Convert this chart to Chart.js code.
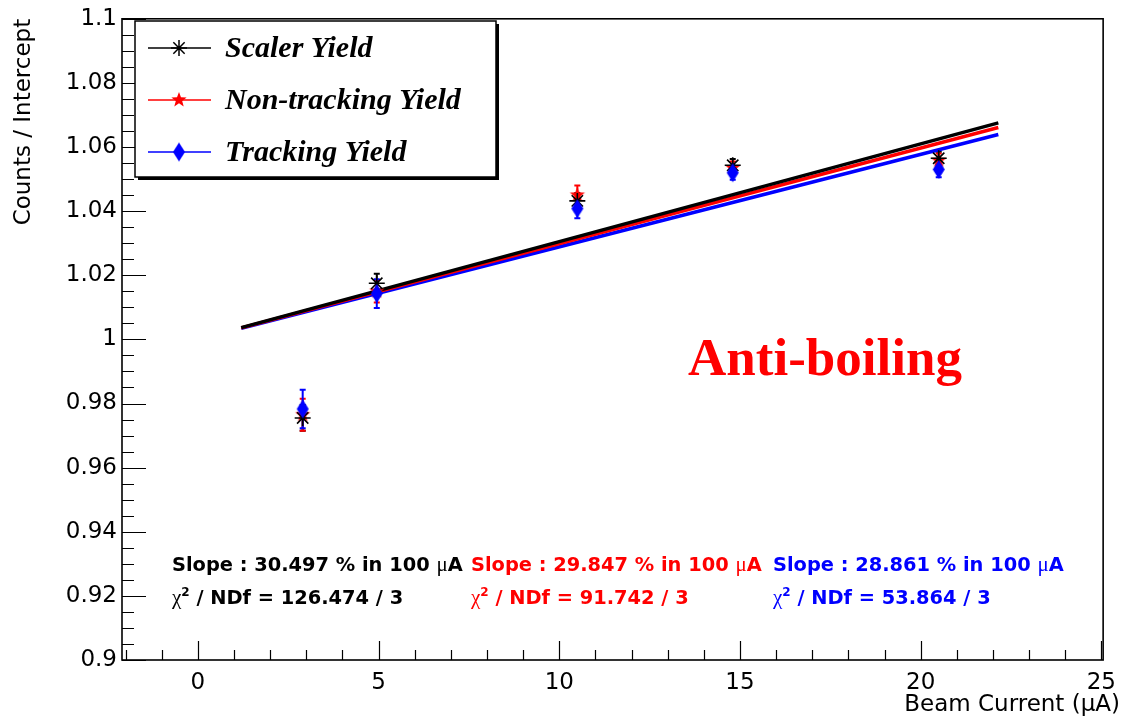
<!DOCTYPE html>
<html><head><meta charset="utf-8">
<script src="https://cdn.jsdelivr.net/npm/chart.js@4/dist/chart.umd.min.js"></script>
<style>html,body{margin:0;padding:0;background:#fff;overflow:hidden}canvas{display:block}</style>
</head><body>
<canvas id="c" width="1125" height="718"></canvas>
<script>
// ---------- data ----------
const seriesNames = ['Scaler Yield', 'Non-tracking Yield', 'Tracking Yield'];
const seriesColors = ['#000000', '#ff0000', '#0000ff'];
const beamCurrent = [2.9, 4.95, 10.5, 14.8, 20.5];
const scalerYield = [0.9755, 1.0175, 1.0432, 1.0543, 1.0565];
const scalerErr = [0.004, 0.003, 0.0025, 0.002, 0.002];
const nonTrackingYield = [0.9765, 1.0150, 1.0450, 1.0535, 1.0558];
const nonTrackingErr = [0.005, 0.0035, 0.003, 0.002, 0.0022];
const trackingYield = [0.9783, 1.0143, 1.0408, 1.0520, 1.0530];
const trackingErr = [0.006, 0.0045, 0.003, 0.0022, 0.0024];
const fitSlopes = [30.497, 29.847, 28.861];      // % in 100 uA
const fitChi2 = [126.474, 91.742, 53.864];
const fitNdf = [3, 3, 3];
const fitRange = [1.2, 22.15];
const xTicks = [0, 5, 10, 15, 20, 25];
const xTickLabels = ['0', '5', '10', '15', '20', '25'];
const yTicks = [0.9, 0.92, 0.94, 0.96, 0.98, 1.0, 1.02, 1.04, 1.06, 1.08, 1.1];
const yTickLabels = ['0.9', '0.92', '0.94', '0.96', '0.98', '1', '1.02', '1.04', '1.06', '1.08', '1.1'];
const xTitle = 'Beam Current (\u03bcA)';
const yTitle = 'Counts / Intercept';
const annotationText = 'Anti-boiling';

// ---------- marker images ----------
function makeStar5(color, r) {
  const c = document.createElement('canvas');
  const s = Math.ceil(2 * r + 2); c.width = s; c.height = s;
  const g = c.getContext('2d'); g.translate(s / 2, s / 2);
  g.beginPath();
  for (let i = 0; i < 10; i++) {
    const rr = i % 2 === 0 ? r : r * 0.42;
    const a = -Math.PI / 2 + i * Math.PI / 5;
    const px = rr * Math.cos(a), py = rr * Math.sin(a);
    i === 0 ? g.moveTo(px, py) : g.lineTo(px, py);
  }
  g.closePath(); g.fillStyle = color; g.fill();
  return c;
}
function makeDiamond(color, w, h) {
  const c = document.createElement('canvas');
  c.width = w + 2; c.height = h + 2;
  const g = c.getContext('2d'); g.translate(c.width / 2, c.height / 2);
  g.beginPath(); g.moveTo(0, -h / 2); g.lineTo(w / 2, 0); g.lineTo(0, h / 2); g.lineTo(-w / 2, 0); g.closePath();
  g.fillStyle = color; g.fill();
  return c;
}
const markerStyles = ['star', makeStar5(seriesColors[1], 8), makeDiamond(seriesColors[2], 12, 19)];

const yields = [scalerYield, nonTrackingYield, trackingYield];
const errs = [scalerErr, nonTrackingErr, trackingErr];

const pointDatasets = yields.map((ys, k) => ({
  label: seriesNames[k],
  data: beamCurrent.map((x, i) => ({ x: x, y: ys[i] })),
  errors: errs[k],
  showLine: false,
  pointStyle: markerStyles[k],
  pointRadius: 8,
  pointBorderWidth: 1.6,
  borderColor: seriesColors[k],
  backgroundColor: seriesColors[k],
  order: [1, 2, 0][k]
}));
const lineDatasets = fitSlopes.map((s, k) => ({
  label: seriesNames[k] + ' fit',
  isFit: true,
  data: fitRange.map(x => ({ x: x, y: 1 + s / 100 / 100 * x })),
  showLine: true,
  pointRadius: 0,
  borderWidth: 3.5,
  borderColor: seriesColors[k],
  order: 5 + k
}));

const rootPlugin = {
  id: 'rootStyle',
  beforeDatasetsDraw(chart) {
    const ctx = chart.ctx, xs = chart.scales.x, ys = chart.scales.y;
    ctx.save();
    chart.data.datasets.forEach(ds => {
      if (!ds.errors) return;
      ctx.strokeStyle = ds.borderColor; ctx.lineWidth = 2;
      ds.data.forEach((p, i) => {
        const px = xs.getPixelForValue(p.x);
        const y1 = ys.getPixelForValue(p.y - ds.errors[i]);
        const y2 = ys.getPixelForValue(p.y + ds.errors[i]);
        ctx.beginPath();
        ctx.moveTo(px, y1); ctx.lineTo(px, y2);
        ctx.moveTo(px - 3, y1); ctx.lineTo(px + 3, y1);
        ctx.moveTo(px - 3, y2); ctx.lineTo(px + 3, y2);
        ctx.stroke();
      });
    });
    ctx.restore();
  },
  afterDraw(chart) {
    const ctx = chart.ctx, a = chart.chartArea, xs = chart.scales.x, ys = chart.scales.y;
    ctx.save();
    // ticks
    ctx.strokeStyle = '#000'; ctx.lineWidth = 1.2;
    ctx.beginPath();
    for (let v = -2; v <= 25; v += 1) {
      const px = Math.round(xs.getPixelForValue(v)) + 0.5;
      const len = xTicks.includes(v) ? 19 : 10;
      ctx.moveTo(px, a.bottom); ctx.lineTo(px, a.bottom - len);
    }
    for (let i = 0; i <= 40; i++) {
      const v = 0.9 + i * 0.005;
      const py = Math.round(ys.getPixelForValue(v)) + 0.5;
      const len = i % 4 === 0 ? 24 : 12;
      ctx.moveTo(a.left, py); ctx.lineTo(a.left + len, py);
    }
    ctx.stroke();
    // frame
    ctx.lineWidth = 1.6;
    ctx.strokeRect(a.left, a.top, a.right - a.left, a.bottom - a.top);

    // x title
    ctx.fillStyle = '#000';
    ctx.font = '23px "DejaVu Sans"';
    ctx.textAlign = 'right'; ctx.textBaseline = 'alphabetic';
    ctx.fillText(xTitle, 1120, 711);

    // legend box
    const bx = 135, by = 21, bw = 361, bh = 156;
    ctx.fillStyle = '#000'; ctx.fillRect(bx + 3, by + 3, bw, bh);
    ctx.fillStyle = '#fff'; ctx.fillRect(bx, by, bw, bh);
    ctx.lineWidth = 1.5; ctx.strokeStyle = '#000'; ctx.strokeRect(bx, by, bw, bh);
    const rows = [48, 100, 152];
    const pts = chart.data.datasets.filter(d => !d.isFit);
    pts.forEach((ds, k) => {
      const y = rows[k];
      ctx.strokeStyle = ds.borderColor; ctx.lineWidth = 1.5;
      ctx.beginPath(); ctx.moveTo(148, y); ctx.lineTo(211, y); ctx.stroke();
      Chart.helpers.drawPoint(ctx, { pointStyle: ds.pointStyle, radius: 8, borderWidth: 1.6, rotation: 0 }, 179, y);
      ctx.fillStyle = '#000';
      ctx.font = 'italic bold 30px "Liberation Serif"';
      ctx.textAlign = 'left'; ctx.textBaseline = 'middle';
      ctx.fillText(ds.label, 225, y + 1);
    });

    // annotation
    ctx.fillStyle = '#ff0000';
    ctx.font = 'bold 53px "Liberation Serif"';
    ctx.textAlign = 'left'; ctx.textBaseline = 'alphabetic';
    ctx.fillText(annotationText, 688, 375);

    // fit texts
    const cols = [172, 471, 773];
    const bold = 'bold 19.4px "DejaVu Sans"';
    const greek = '21px "Liberation Serif"';
    function seq(parts, x, y, color) {
      ctx.fillStyle = color;
      parts.forEach(p => {
        ctx.font = p[1];
        ctx.fillText(p[0], x, y + (p[2] || 0));
        x += ctx.measureText(p[0]).width;
      });
    }
    fitSlopes.forEach((s, k) => {
      seq([['Slope : ' + s.toFixed(3) + ' % in 100 ', bold], ['\u03bc', greek], ['A', bold]], cols[k], 571, seriesColors[k]);
      seq([['\u03c7', greek], ['2', 'bold 12px "DejaVu Sans"', -8], [' / NDf = ' + fitChi2[k].toFixed(3) + ' / ' + fitNdf[k], bold]], cols[k], 604, seriesColors[k]);
    });
    ctx.restore();
  }
};

new Chart(document.getElementById('c'), {
  type: 'scatter',
  data: { datasets: [...pointDatasets, ...lineDatasets] },
  options: {
    responsive: false,
    animation: false,
    events: [],
    layout: { padding: { top: 16, right: 20, left: 0, bottom: 0 } },
    plugins: { legend: { display: false }, tooltip: { enabled: false } },
    scales: {
      x: {
        type: 'linear', min: -2.1, max: 25.05,
        afterBuildTicks: s => { s.ticks = xTicks.map(v => ({ value: v })); },
        afterFit: s => { s.height = 58; },
        grid: { display: false, drawTicks: false },
        border: { display: false },
        ticks: { color: '#000', padding: 9, font: { family: 'DejaVu Sans', size: 23 }, maxRotation: 0,
          callback: (v, i) => xTickLabels[i] }
      },
      y: {
        type: 'linear', min: 0.9, max: 1.1,
        afterBuildTicks: s => { s.ticks = yTicks.map(v => ({ value: v })); },
        afterFit: s => { s.width = 122; },
        grid: { display: false, drawTicks: false },
        border: { display: false },
        title: { display: true, text: yTitle, align: 'end', color: '#000', font: { family: 'DejaVu Sans', size: 23 }, padding: { top: 10, bottom: 0 } },
        ticks: { color: '#000', padding: 5, font: { family: 'DejaVu Sans', size: 23 },
          callback: (v, i) => yTickLabels[i] }
      }
    }
  },
  plugins: [rootPlugin]
});
</script>
</body></html>
